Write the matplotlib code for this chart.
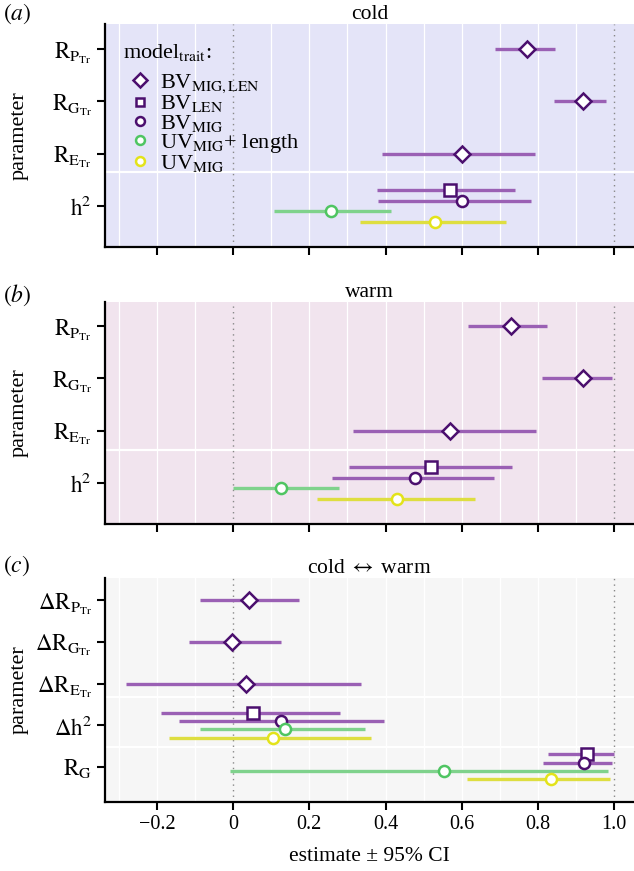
import matplotlib
matplotlib.use('Agg')
import matplotlib.pyplot as plt
import numpy as np

plt.rcParams['font.family'] = ['Liberation Serif', 'DejaVu Serif']
plt.rcParams['mathtext.fontset'] = 'stix'

# model labels / styling keys
models = ['BV$_{\\mathrm{MIG,LEN}}$', 'BV$_{\\mathrm{LEN}}$', 'BV$_{\\mathrm{MIG}}$',
          'UV$_{\\mathrm{MIG}}$+ length', 'UV$_{\\mathrm{MIG}}$']
markers = ['D', 's', 'o', 'o', 'o']
edge_cols = ['#4b0f6e', '#4b0f6e', '#4b0f6e', '#4fc562', '#e3e31a']
line_cols = ['#9a60b4', '#9a60b4', '#9a60b4', '#7fd28c', '#dede40']
offsets = [0.0, 0.3, 0.1, -0.1, -0.3]

# panel (a) cold
cold_labels = [r'$\mathrm{R_{P_{Tr}}}$', r'$\mathrm{R_{G_{Tr}}}$', r'$\mathrm{R_{E_{Tr}}}$', r'$\mathrm{h^2}$']
cold_row = [4, 3, 2, 1, 1, 1, 1]
cold_model = [0, 0, 0, 1, 2, 3, 4]
cold_est = [0.770, 0.917, 0.600, 0.569, 0.602, 0.257, 0.530]
cold_lo = [0.687, 0.843, 0.390, 0.377, 0.380, 0.108, 0.333]
cold_hi = [0.844, 0.979, 0.793, 0.741, 0.782, 0.415, 0.716]

# panel (b) warm
warm_labels = cold_labels
warm_row = [4, 3, 2, 1, 1, 1, 1]
warm_model = [0, 0, 0, 1, 2, 3, 4]
warm_est = [0.729, 0.918, 0.568, 0.519, 0.477, 0.127, 0.430]
warm_lo = [0.617, 0.811, 0.315, 0.305, 0.260, 0.000, 0.219]
warm_hi = [0.824, 0.995, 0.795, 0.733, 0.685, 0.277, 0.634]

# panel (c) cold <-> warm
diff_labels = [r'$\Delta\mathrm{R_{P_{Tr}}}$', r'$\Delta\mathrm{R_{G_{Tr}}}$', r'$\Delta\mathrm{R_{E_{Tr}}}$',
               r'$\Delta\mathrm{h^2}$', r'$\mathrm{R_G}$']
diff_row = [5, 4, 3, 2, 2, 2, 2, 1, 1, 1, 1]
diff_model = [0, 0, 0, 1, 2, 3, 4, 1, 2, 3, 4]
diff_est = [0.043, -0.002, 0.034, 0.052, 0.126, 0.135, 0.104, 0.928, 0.920, 0.553, 0.835]
diff_lo = [-0.088, -0.116, -0.282, -0.190, -0.143, -0.088, -0.168, 0.826, 0.812, -0.007, 0.614]
diff_hi = [0.174, 0.126, 0.336, 0.280, 0.396, 0.347, 0.361, 0.999, 0.995, 0.984, 0.989]

fig = plt.figure(figsize=(6.34, 8.71), dpi=100)
W, H = 634, 871


def make_axes(top, bottom):
    return fig.add_axes([105 / W, 1 - bottom / H, (W - 105) / W, (bottom - top) / H])


def draw_panel(ax, labels, rows, mods, est, lo, hi, bg, title, ylim, sep, legend=False):
    ax.set_facecolor(bg)
    ax.set_xlim(-0.336, 1.052)
    ax.set_ylim(*ylim)
    for gx in np.arange(-0.3, 1.05, 0.1):
        if abs(gx) > 1e-6 and abs(gx - 1) > 1e-6:
            ax.axvline(gx, color='white', lw=0.9, zorder=0)
    for s in sep:
        ax.axhline(s, color='white', lw=1.6, zorder=0.5)
    ax.axvline(0, color='#888888', lw=1.0, ls=(0, (1, 3)), zorder=1)
    ax.axvline(1, color='#888888', lw=1.0, ls=(0, (1, 3)), zorder=1)
    seen = set()
    for r, m, e, l, h in zip(rows, mods, est, lo, hi):
        y = r + offsets[m]
        ax.plot([l, h], [y, y], color=line_cols[m], lw=2.4, solid_capstyle='butt', zorder=2)
        lab = models[m] if m not in seen else None
        seen.add(m)
        ax.plot(e, y, marker=markers[m], ms=8.5 if m == 0 else 8, mfc='white', mec=edge_cols[m],
                mew=1.8, ls='none', zorder=3, label=lab)
    n = len(labels)
    ax.set_yticks(range(n, 0, -1))
    ax.set_yticklabels(labels, fontsize=16.5)
    ax.set_xticks([-0.2, 0, 0.2, 0.4, 0.6, 0.8, 1.0])
    ax.set_xticklabels(['\u22120.2', '0', '0.2', '0.4', '0.6', '0.8', '1.0'], fontsize=14.5)
    ax.tick_params(direction='out', length=6, width=1.5, color='black')
    for side in ['top', 'right']:
        ax.spines[side].set_visible(False)
    for side in ['left', 'bottom']:
        ax.spines[side].set_linewidth(1.6)
    ax.set_title(title, fontsize=15.5, pad=2)
    ax.set_ylabel('parameter', fontsize=16)
    ax.yaxis.set_label_coords(-0.145, 0.5)
    if legend:
        handles, labs = ax.get_legend_handles_labels()
        order = [labs.index(mm) for mm in models]
        leg = ax.legend([handles[i] for i in order], [labs[i] for i in order],
                        title='model$_{\\mathrm{trait}}$:', loc='upper left',
                        bbox_to_anchor=(0.005, 0.99), frameon=False, fontsize=16,
                        title_fontsize=16, handletextpad=0.15, labelspacing=-0.08,
                        borderaxespad=0.3, handlelength=1.5, markerscale=0.8)
        leg._legend_box.align = 'left'
        leg._legend_box.sep = 7


ax_a = make_axes(24, 247)
draw_panel(ax_a, cold_labels, cold_row, cold_model, cold_est, cold_lo, cold_hi,
           '#e4e4f8', 'cold', (0.216, 4.478), [1.65], legend=True)
ax_a.tick_params(labelbottom=False)

ax_b = make_axes(302, 524)
draw_panel(ax_b, warm_labels, warm_row, warm_model, warm_est, warm_lo, warm_hi,
           '#f1e4ee', 'warm', (0.216, 4.46), [1.63])
ax_b.tick_params(labelbottom=False)

ax_c = make_axes(578, 802)
draw_panel(ax_c, diff_labels, diff_row, diff_model, diff_est, diff_lo, diff_hi,
           '#f6f6f6', r'cold $\leftrightarrow$ warm', (0.16, 5.53), [2.67, 1.49])
ax_c.set_xlabel('estimate \u00b1 95% CI', fontsize=15.5, labelpad=9)

for lab, yy in [('a', 14), ('b', 295), ('c', 566)]:
    fig.text(3 / W, 1 - yy / H, r'$(\mathit{' + lab + r'})$', fontsize=17, va='center', ha='left')

fig.savefig('out.png', dpi=100)
